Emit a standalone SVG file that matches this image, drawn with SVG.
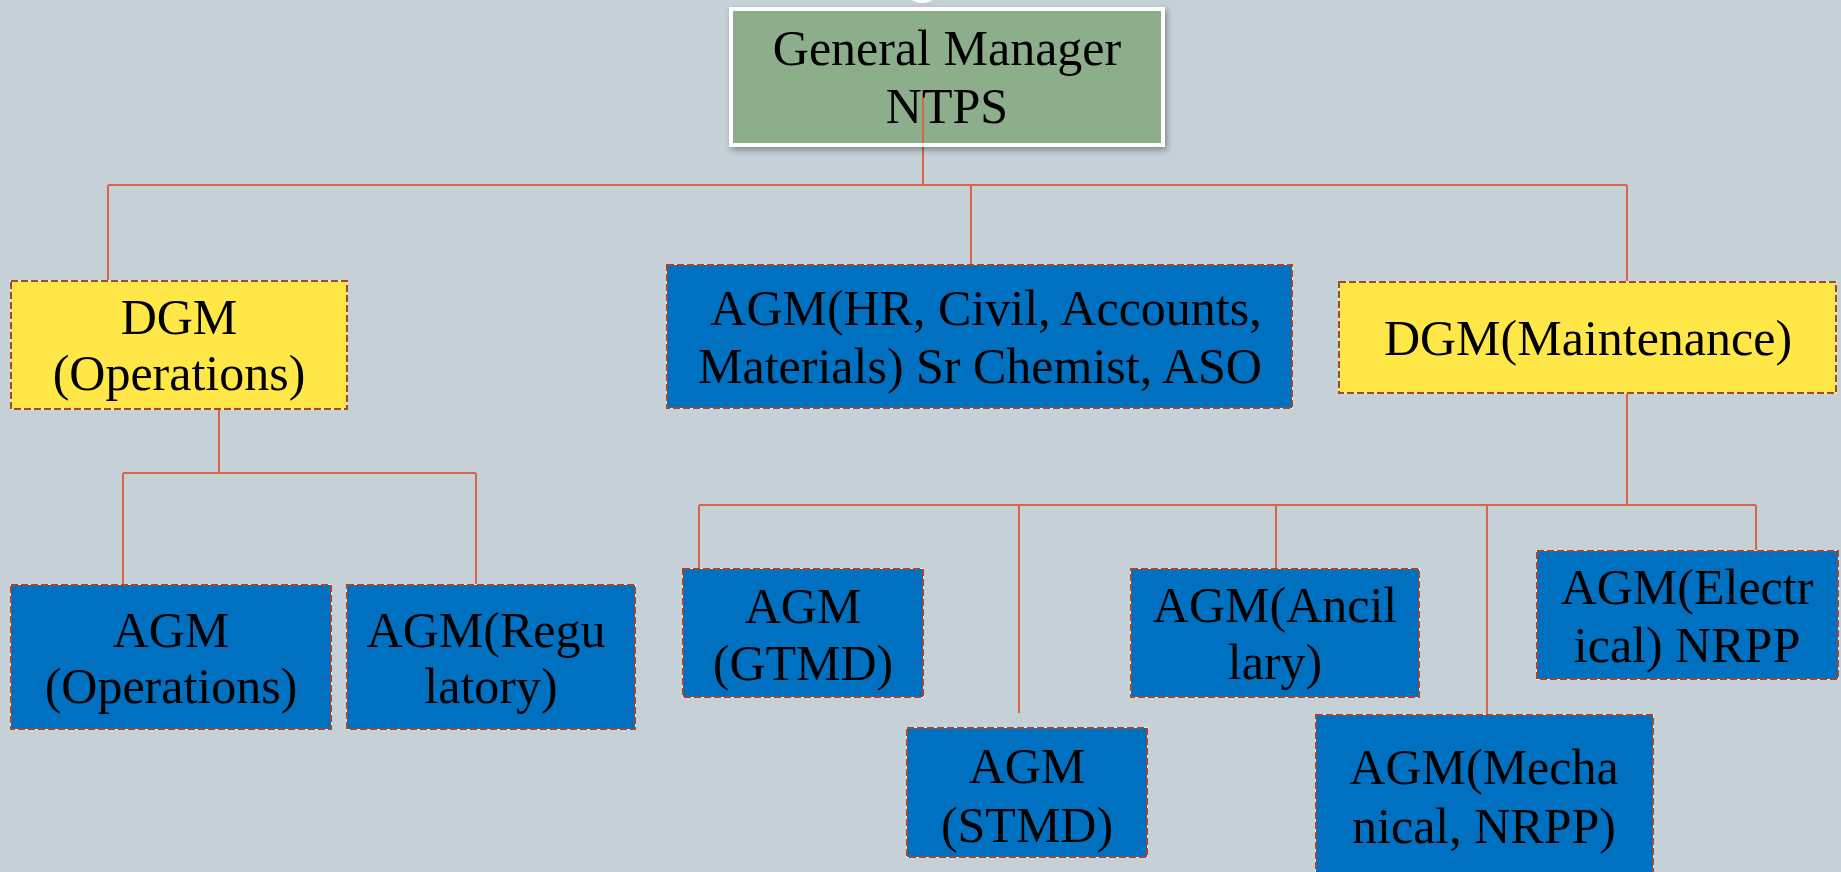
<svg xmlns="http://www.w3.org/2000/svg" width="1841" height="872" viewBox="0 0 1841 872">
  <defs>
    <filter id="shadow" x="-10%" y="-10%" width="120%" height="130%">
      <feDropShadow dx="2" dy="3" stdDeviation="3" flood-color="#000000" flood-opacity="0.35"/>
    </filter>
    <style>
      .conn { fill: none; stroke: #D7654B; stroke-width: 2; }
      .box { stroke: #A5472F; stroke-width: 2; stroke-dasharray: 7 3; }
      .boxbase { fill: none; stroke: #E8ECEF; stroke-width: 2; }
      .blue { fill: #0070C0; }
      .yellow { fill: #FFE747; }
      .lbl { font-family: "Liberation Serif", "Times New Roman", serif; font-size: 50px; fill: #000000; text-anchor: middle; }
    </style>
  </defs>

  <rect x="0" y="0" width="1841" height="872" fill="#C5D0D7"/>
  <ellipse cx="922" cy="-14" rx="18" ry="17" fill="#FFFFFF"/>

  <g id="connectors">
    <path class="conn" d="M923 90 V185"/>
    <path class="conn" d="M108 185 H1627"/>
    <path class="conn" d="M108 185 V281"/>
    <path class="conn" d="M971 185 V265"/>
    <path class="conn" d="M1627 185 V282"/>
    <path class="conn" d="M219 410 V473"/>
    <path class="conn" d="M123 473 H476"/>
    <path class="conn" d="M123 473 V585"/>
    <path class="conn" d="M476 473 V585"/>
    <path class="conn" d="M1627 393 V505"/>
    <path class="conn" d="M699 505 H1756"/>
    <path class="conn" d="M699 505 V569"/>
    <path class="conn" d="M1019 505 V713"/>
    <path class="conn" d="M1276 505 V569"/>
    <path class="conn" d="M1487 505 V715"/>
    <path class="conn" d="M1756 505 V551"/>
  </g>

  <g id="gm">
    <rect x="731" y="9" width="432" height="136" fill="#8DAE8B" stroke="#FFFFFF" stroke-width="4" filter="url(#shadow)"/>
    <path class="conn" d="M923 90 V143"/>
    <text class="lbl" x="947" y="65">General Manager</text>
    <text class="lbl" x="947" y="123">NTPS</text>
  </g>

  <g id="dgm-operations">
    <rect class="boxbase" x="11" y="281" width="336" height="128"/>
    <rect class="yellow box" x="11" y="281" width="336" height="128"/>
    <text class="lbl" x="179" y="334">DGM</text>
    <text class="lbl" x="179" y="390">(Operations)</text>
  </g>

  <g id="agm-hr">
    <rect class="boxbase" x="667" y="265" width="625" height="143"/>
    <rect class="blue box" x="667" y="265" width="625" height="143"/>
    <text class="lbl" x="986" y="325">AGM(HR, Civil, Accounts,</text>
    <text class="lbl" x="980" y="383">Materials) Sr Chemist, ASO</text>
  </g>

  <g id="dgm-maintenance">
    <rect class="boxbase" x="1339" y="282" width="497" height="111"/>
    <rect class="yellow box" x="1339" y="282" width="497" height="111"/>
    <text class="lbl" x="1588" y="355">DGM(Maintenance)</text>
  </g>

  <g id="agm-operations">
    <rect class="boxbase" x="11" y="585" width="320" height="144"/>
    <rect class="blue box" x="11" y="585" width="320" height="144"/>
    <text class="lbl" x="171" y="647">AGM</text>
    <text class="lbl" x="171" y="703">(Operations)</text>
  </g>

  <g id="agm-regulatory">
    <rect class="boxbase" x="347" y="585" width="288" height="144"/>
    <rect class="blue box" x="347" y="585" width="288" height="144"/>
    <text class="lbl" x="486" y="647">AGM(Regu</text>
    <text class="lbl" x="491" y="703">latory)</text>
  </g>

  <g id="agm-gtmd">
    <rect class="boxbase" x="683" y="569" width="240" height="128"/>
    <rect class="blue box" x="683" y="569" width="240" height="128"/>
    <text class="lbl" x="803" y="623">AGM</text>
    <text class="lbl" x="803" y="680">(GTMD)</text>
  </g>

  <g id="agm-stmd">
    <rect class="boxbase" x="907" y="728" width="240" height="129"/>
    <rect class="blue box" x="907" y="728" width="240" height="129"/>
    <text class="lbl" x="1027" y="783">AGM</text>
    <text class="lbl" x="1027" y="842">(STMD)</text>
  </g>

  <g id="agm-ancillary">
    <rect class="boxbase" x="1131" y="569" width="288" height="128"/>
    <rect class="blue box" x="1131" y="569" width="288" height="128"/>
    <text class="lbl" x="1275" y="622">AGM(Ancil</text>
    <text class="lbl" x="1275" y="679">lary)</text>
  </g>

  <g id="agm-mechanical">
    <rect class="boxbase" x="1316" y="715" width="337" height="200"/>
    <rect class="blue box" x="1316" y="715" width="337" height="200"/>
    <text class="lbl" x="1484" y="784">AGM(Mecha</text>
    <text class="lbl" x="1484" y="843">nical, NRPP)</text>
  </g>

  <g id="agm-electrical">
    <rect class="boxbase" x="1537" y="551" width="301" height="128"/>
    <rect class="blue box" x="1537" y="551" width="301" height="128"/>
    <text class="lbl" x="1687" y="604">AGM(Electr</text>
    <text class="lbl" x="1687" y="662">ical) NRPP</text>
  </g>
</svg>
